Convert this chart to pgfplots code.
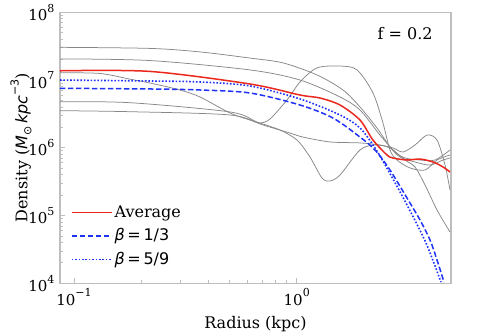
\documentclass[border=0pt]{standalone}
\usepackage{fontspec}
\setmainfont{DejaVu Serif}
\newfontfamily\dvs{DejaVu Sans}
\usepackage{pgfplots}
\pgfplotsset{compat=1.18}

\definecolor{avgred}{RGB}{235,40,30}
\definecolor{betablue}{RGB}{30,50,250}
\definecolor{spine}{RGB}{190,190,190}
\definecolor{halo}{RGB}{135,135,135}

\newcommand{\sups}[1]{\raisebox{0.55em}{\fontsize{11}{11}\selectfont #1}}

\begin{document}
\fontsize{16}{19}\selectfont
\begin{tikzpicture}
\useasboundingbox (-60pt,-50.7pt) rectangle (433pt,283.3pt);
\begin{axis}[
  scale only axis, width=391pt, height=271pt,
  xmode=log, ymode=log,
  xmin=0.0865, xmax=4.93, ymin=1e4, ymax=1e8,
  axis line style={spine, line width=1.3pt},
  tick style={spine, line width=0.8pt},
  major tick length=5pt, minor tick length=3pt,
  xtick pos=left, ytick pos=left,
  xtick={0.1,1}, xticklabels={10\sups{−1},10\sups{0}},
  ytick={1e4,1e5,1e6,1e7,1e8},
  yticklabels={10\sups{4},10\sups{5},10\sups{6},10\sups{7},10\sups{8}},
  tick label style={font=\fontsize{15}{17}\selectfont},
  label style={font=\fontsize{16}{18}\selectfont},
  xlabel={Radius (kpc)},
  ylabel={Density ({\dvs\itshape M}\raisebox{-0.25em}{\fontsize{11}{11}\selectfont\dvs ⊙}\,{\dvs\itshape kpc}\sups{\dvs −3})},
  every axis y label/.style={at={(rel axis cs:0,0.5)}, xshift=-23pt, rotate=90, anchor=south},
  legend style={draw=none, fill=none, text=black, at={(0.02,0.045)}, anchor=south west,
    font=\fontsize{16}{18}\selectfont, row sep=5pt, cells={anchor=west}},
]
% individual haloes
\addplot[halo, line width=0.75pt, smooth, forget plot] coordinates {
(0.0865,3.04e7)(0.2195,2.93e7)(0.3679,2.60e7)(0.617,2.11e7)(0.868,1.79e7)
(1.233,1.19e7)(1.614,7.13e6)(1.924,4.0e6)(2.294,1.96e6)(2.624,1.03e6)
(2.91,7.31e5)(3.398,6.17e5)(3.969,5.57e5)(4.539,6.6e5)(4.88,7.07e5)};
\addplot[halo, line width=0.75pt, smooth, forget plot] coordinates {
(0.0865,2.05e7)(0.2195,1.94e7)(0.617,1.41e7)(1.035,1.0e7)(1.565,5.62e6)
(1.924,3.61e6)(2.366,1.54e6)(2.764,8.67e5)(3.064,7.07e5)(3.579,6.6e5)
(4.178,6.6e5)(4.88,9.28e5)};
\addplot[halo, line width=0.75pt, smooth, forget plot] coordinates {
(0.0865,1.28e7)(0.1309,1.25e7)(0.1784,1.03e7)(0.2195,9.04e6)(0.2992,7.13e6)
(0.3679,5.62e6)(0.5018,3.26e6)(0.617,2.57e6)(0.6843,2.32e6)(0.7588,2.66e6)
(0.9046,5.08e6)(1.035,9.36e6)(1.233,1.51e7)(1.565,1.61e7)(1.866,1.41e7)
(2.201,6.44e6)(2.44,2.32e6)(2.624,9.28e5)(2.821,6.6e5)(3.227,5.04e5)
(3.769,4.7e5)(4.266,6.6e5)(4.88,7.83e5)};
\addplot[halo, line width=0.75pt, smooth, forget plot] coordinates {
(0.0865,4.79e6)(0.1784,4.63e6)(0.5018,3.38e6)(0.6633,2.40e6)(0.8414,1.83e6)
(1.003,1.30e6)(1.147,7.31e5)(1.299,3.58e5)(1.411,3.24e5)(1.565,3.97e5)
(1.924,9.28e5)(2.247,1.10e6)(2.624,9.93e5)(3.064,6.6e5)(3.398,5.21e5)
(3.769,2.83e5)(4.266,1.21e5)(4.88,5.71e4)};
\addplot[halo, line width=0.75pt, smooth, forget plot] coordinates {
(0.0865,3.53e6)(0.1784,3.41e6)(0.5018,3.05e6)(0.7058,2.17e6)(0.9331,1.65e6)
(1.067,1.44e6)(1.411,1.22e6)(1.924,1.18e6)(2.366,1.10e6)(2.707,9.93e5)
(3.002,8.67e5)(3.398,1.10e6)(3.848,1.54e6)(4.266,1.30e6)(4.635,5.57e5)
(4.88,2.38e5)};
% average
\addplot[color=avgred, line width=1.5pt, smooth,
  legend image code/.code={\color{avgred}\draw[draw=avgred, line width=1.5pt] (0pt,0pt) -- (33pt,0pt); \path (0pt,0pt) -- (40pt,0pt);}]
 coordinates {
(0.0865,1.37e7)(0.2195,1.34e7)(0.617,8.74e6)(1.035,6.01e6)(1.272,5.43e6)
(1.565,4.28e6)(1.924,2.57e6)(2.201,1.30e6)(2.544,7.83e5)(2.707,7.07e5)
(3.129,6.6e5)(3.579,6.83e5)(4.093,6.17e5)(4.539,5.21e5)(4.88,4.39e5)};
\addlegendentry{Average}
% models
\addplot[color=betablue, line width=1.5pt, dash pattern=on 5.5pt off 2.5pt, smooth,
  legend image code/.code={\color{betablue}\draw[draw=betablue, line width=1.5pt, dash pattern=on 5.5pt off 2.5pt] (0pt,0pt) -- (33pt,0pt); \path (0pt,0pt) -- (40pt,0pt);}]
 coordinates {
(0.0865,7.55e6)(0.2195,7.38e6)(0.3679,7.13e6)(0.617,6.44e6)(1.035,4.28e6)
(1.455,2.75e6)(1.924,1.44e6)(2.247,9.28e5)(2.624,4.70e5)(3.227,1.53e5)
(3.579,8.6e4)(3.969,4.36e4)(4.266,2.21e4)(4.587,1.04e4)};
\addlegendentry{{\dvs\itshape β}{\dvs\,=\,1/3}}
\addplot[color=betablue, line width=1.6pt, dash pattern=on 1.6pt off 1.8pt, smooth,
  legend image code/.code={\color{betablue}\draw[draw=betablue, line width=1.6pt, dash pattern=on 1.6pt off 1.8pt] (0pt,0pt) -- (33pt,0pt); \path (0pt,0pt) -- (40pt,0pt);}]
 coordinates {
(0.0865,1.0e7)(0.2195,9.68e6)(0.3679,9.36e6)(0.617,8.17e6)(1.035,5.25e6)
(1.565,3.05e6)(1.924,1.96e6)(2.247,9.93e5)(2.570,4.70e5)(3.129,1.43e5)
(3.807,3.94e4)(4.446,1.04e4)};
\addlegendentry{{\dvs\itshape β}{\dvs\,=\,5/9}}
\node[anchor=east, font=\fontsize{16}{18}\selectfont] at (rel axis cs:0.967,0.92) {f = 0.2};
\end{axis}
\end{tikzpicture}
\end{document}
